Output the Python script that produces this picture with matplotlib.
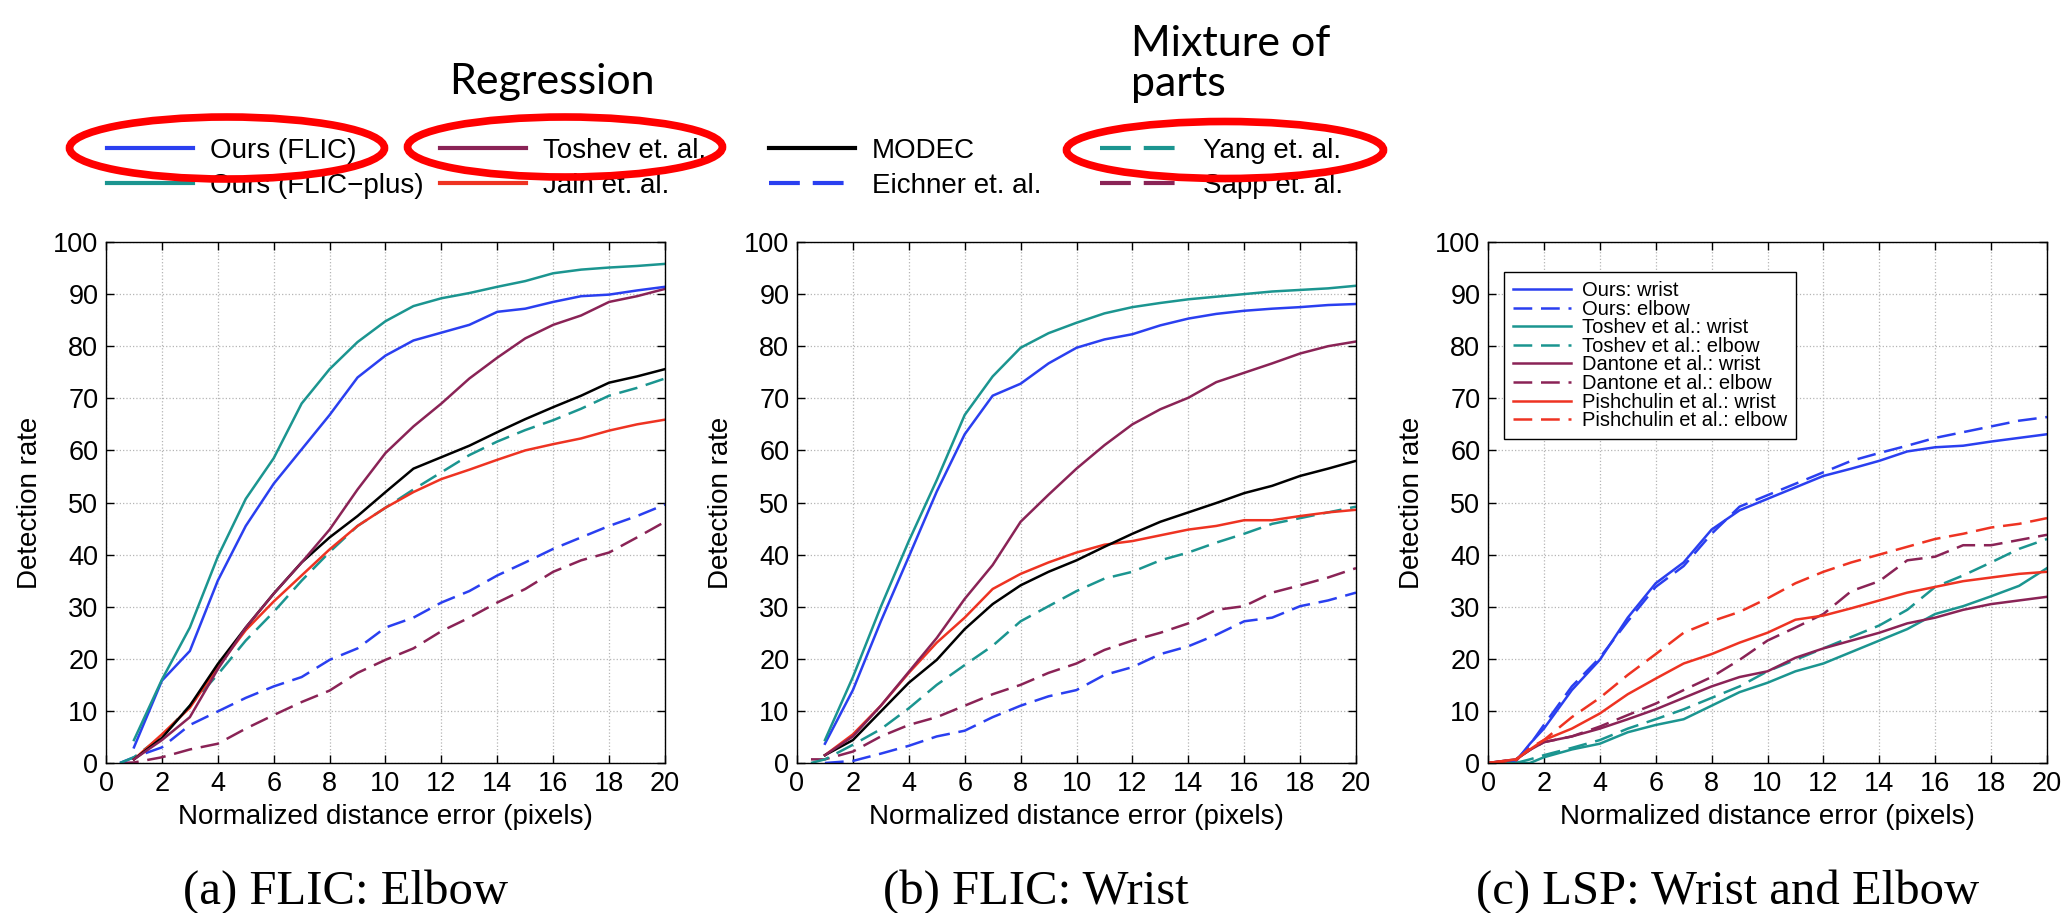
import numpy as np
import matplotlib
matplotlib.use("Agg")
import matplotlib.pyplot as plt
from matplotlib.lines import Line2D
from matplotlib.patches import Ellipse

plt.rcParams['font.family'] = ['Liberation Sans', 'DejaVu Sans']

nan = np.nan

# (a) FLIC: Elbow
x_a = [0.5, 1, 2, 3, 4, 5, 6, 7, 8, 9, 10, 11, 12, 13, 14, 15, 16, 17, 18, 19, 20]
ours_flic_a = [nan, 3.0, 15.8, 21.5, 35.0, 45.5, 53.6, 60.2, 66.8, 74.0, 78.2, 81.1, 82.6, 84.1, 86.6, 87.2, 88.5, 89.6, 89.9, 90.7, 91.4]
ours_plus_a = [nan, 4.4, 16.0, 26.0, 39.6, 50.7, 58.5, 69.0, 75.6, 80.8, 84.8, 87.7, 89.2, 90.2, 91.4, 92.5, 94.0, 94.7, 95.1, 95.4, 95.8]
toshev_a = [nan, 0.7, 4.4, 8.8, 18.0, 26.0, 32.5, 38.5, 44.8, 52.5, 59.5, 64.6, 69.0, 73.8, 77.8, 81.5, 84.1, 85.9, 88.5, 89.6, 91.0]
modec_a = [nan, 0.7, 4.8, 11.0, 19.0, 26.0, 32.5, 38.5, 43.3, 47.4, 52.0, 56.5, 58.7, 60.9, 63.5, 66.0, 68.3, 70.5, 73.0, 74.2, 75.6]
jain_a = [nan, 0.7, 5.5, 10.6, 18.4, 25.5, 31.0, 36.0, 41.0, 45.5, 49.0, 52.0, 54.5, 56.3, 58.2, 60.0, 61.2, 62.3, 63.8, 65.0, 65.9]
yang_a = [0.0, 1.1, 5.1, 11.0, 17.0, 23.5, 29.0, 35.0, 40.5, 45.5, 49.0, 52.5, 55.8, 59.1, 61.7, 63.9, 65.8, 68.0, 70.5, 72.0, 73.8]
eichner_a = [0.0, 1.1, 3.0, 7.3, 9.9, 12.5, 14.7, 16.5, 19.8, 22.0, 26.0, 27.9, 30.8, 33.0, 36.0, 38.5, 41.1, 43.3, 45.5, 47.4, 49.6]
sapp_a = [0.0, 0.1, 1.1, 2.6, 3.7, 6.6, 9.2, 11.7, 13.9, 17.3, 19.8, 22.0, 25.3, 27.9, 30.8, 33.4, 36.7, 38.9, 40.4, 43.3, 46.3]

# (b) FLIC: Wrist
x_b = [0.5, 1, 2, 3, 4, 5, 6, 7, 8, 9, 10, 11, 12, 13, 14, 15, 16, 17, 18, 19, 20]
ours_flic_b = [nan, 3.7, 14.0, 27.2, 39.6, 52.1, 63.1, 70.5, 72.8, 76.7, 79.7, 81.3, 82.3, 84.0, 85.3, 86.2, 86.8, 87.2, 87.5, 87.9, 88.1]
ours_plus_b = [nan, 4.4, 16.5, 30.0, 42.6, 54.3, 66.8, 74.2, 79.7, 82.5, 84.5, 86.3, 87.5, 88.3, 89.0, 89.5, 90.0, 90.5, 90.8, 91.1, 91.6]
toshev_b = [nan, 1.5, 5.1, 11.0, 17.5, 24.0, 31.5, 38.0, 46.3, 51.5, 56.5, 61.0, 65.0, 67.9, 70.1, 73.1, 74.9, 76.7, 78.6, 80.0, 80.9]
modec_b = [nan, 1.5, 4.4, 9.9, 15.4, 19.8, 25.7, 30.5, 34.1, 36.7, 38.9, 41.5, 44.0, 46.3, 48.1, 49.9, 51.8, 53.2, 55.1, 56.5, 58.0]
jain_b = [nan, 1.5, 5.5, 11.0, 17.3, 23.1, 27.9, 33.4, 36.3, 38.5, 40.4, 41.9, 42.6, 43.7, 44.8, 45.5, 46.6, 46.6, 47.4, 48.1, 48.6]
yang_b = [0.0, 0.7, 3.5, 6.5, 10.5, 15.0, 18.8, 22.5, 27.2, 30.1, 33.0, 35.4, 36.7, 38.9, 40.4, 42.3, 44.0, 45.9, 47.0, 48.1, 49.2]
eichner_b = [nan, 0.0, 0.4, 1.8, 3.3, 5.1, 6.2, 8.8, 11.0, 12.8, 14.0, 16.9, 18.4, 20.9, 22.4, 24.6, 27.2, 27.9, 30.1, 31.2, 32.7]
sapp_b = [0.7, 0.7, 2.2, 5.1, 7.3, 8.8, 11.0, 13.2, 15.0, 17.3, 19.1, 21.7, 23.5, 25.0, 26.8, 29.4, 30.1, 32.7, 34.1, 35.6, 37.4]

# (c) LSP: Wrist and Elbow
x_c = [0, 1, 1.5, 2, 3, 4, 5, 6, 7, 8, 9, 10, 11, 12, 13, 14, 15, 16, 17, 18, 19, 20]
ours_wr = [0, 0.3, 3.7, 6.6, 14.0, 19.8, 27.9, 34.5, 38.5, 44.8, 48.5, 50.7, 52.9, 55.1, 56.5, 58.0, 59.8, 60.6, 60.9, 61.7, 62.4, 63.1]
ours_el = [0, 0.5, 3.5, 7.3, 14.7, 20.2, 27.2, 33.8, 37.8, 44.0, 49.2, 51.4, 53.6, 55.8, 58.0, 59.5, 60.9, 62.4, 63.5, 64.6, 65.7, 66.4]
toshev_wr = [0, 0, 0, 1.1, 2.6, 3.7, 5.9, 7.3, 8.4, 11.0, 13.6, 15.4, 17.6, 19.1, 21.3, 23.5, 25.7, 28.6, 30.1, 32.0, 34.0, 37.4]
toshev_el = [0, 0, 0.7, 1.5, 2.9, 4.4, 6.6, 8.4, 10.3, 12.5, 14.7, 17.6, 19.8, 22.0, 24.2, 26.4, 29.4, 33.8, 36.0, 38.5, 41.1, 43.0]
dantone_wr = [0, 0.7, 2.5, 4.0, 5.1, 6.6, 8.4, 10.3, 12.5, 14.7, 16.5, 17.6, 20.2, 22.0, 23.5, 25.0, 26.8, 27.9, 29.4, 30.5, 31.2, 31.9]
dantone_el = [0, 0.7, 2.5, 4.0, 5.1, 7.0, 9.2, 11.4, 14.0, 16.5, 19.8, 23.5, 26.0, 28.6, 33.0, 34.9, 38.9, 39.6, 41.8, 41.8, 42.8, 43.8]
pish_wr = [0, 0.7, 2.6, 4.4, 6.6, 9.5, 13.2, 16.2, 19.1, 20.9, 23.1, 25.0, 27.5, 28.3, 29.7, 31.2, 32.7, 33.8, 34.9, 35.6, 36.3, 36.7]
pish_el = [0, 0.5, 2.9, 4.4, 8.8, 12.5, 16.9, 20.9, 25.0, 27.2, 29.0, 31.6, 34.5, 36.7, 38.5, 40.0, 41.5, 43.0, 44.0, 45.2, 45.9, 47.0]

top_labels = ["Ours (FLIC)", "Ours (FLIC\u2212plus)", "Toshev et. al.", "Jain et. al.",
              "MODEC", "Eichner et. al.", "Yang et. al.", "Sapp et. al."]
lsp_labels = ["Ours: wrist", "Ours: elbow", "Toshev et al.: wrist", "Toshev et al.: elbow",
              "Dantone et al.: wrist", "Dantone et al.: elbow",
              "Pishchulin et al.: wrist", "Pishchulin et al.: elbow"]
captions = ["(a) FLIC: Elbow", "(b) FLIC: Wrist", "(c) LSP: Wrist and Elbow"]

BLUE = '#2a3ff0'
TEAL = '#1b9590'
PURPLE = '#8a2356'
RED = '#ee3322'
BLACK = '#000000'

LW = 1.8
DASH = (7.5, 3.5)

fig = plt.figure(figsize=(20.64, 9.13), dpi=100)
W, H = 2064.0, 913.0

def make_ax(left_px):
    ax = fig.add_axes([left_px / W, 1 - 763 / H, 559 / W, 521 / H])
    ax.set_xlim(0, 20)
    ax.set_ylim(0, 100)
    ax.set_xticks(range(0, 21, 2))
    ax.set_yticks(range(0, 101, 10))
    ax.tick_params(direction='in', top=True, right=True, length=6, width=1,
                   labelsize=19.5, pad=5.5)
    ax.grid(True, linestyle=':', color='#b5b5b5', linewidth=0.9)
    for s in ax.spines.values():
        s.set_linewidth(1.0)
    ax.set_xlabel("Normalized distance error (pixels)", fontsize=20, labelpad=5)
    ax.set_ylabel("Detection rate", fontsize=20, labelpad=7)
    return ax

def line(ax, x, y, color, dashed=False):
    if dashed:
        ax.plot(x, y, color=color, lw=LW, dashes=DASH)
    else:
        ax.plot(x, y, color=color, lw=LW)

ax1 = make_ax(106)
line(ax1, x_a, sapp_a, PURPLE, True)
line(ax1, x_a, eichner_a, BLUE, True)
line(ax1, x_a, yang_a, TEAL, True)
line(ax1, x_a, jain_a, RED)
line(ax1, x_a, modec_a, BLACK)
line(ax1, x_a, toshev_a, PURPLE)
line(ax1, x_a, ours_flic_a, BLUE)
line(ax1, x_a, ours_plus_a, TEAL)

ax2 = make_ax(797)
line(ax2, x_b, sapp_b, PURPLE, True)
line(ax2, x_b, eichner_b, BLUE, True)
line(ax2, x_b, yang_b, TEAL, True)
line(ax2, x_b, jain_b, RED)
line(ax2, x_b, modec_b, BLACK)
line(ax2, x_b, toshev_b, PURPLE)
line(ax2, x_b, ours_flic_b, BLUE)
line(ax2, x_b, ours_plus_b, TEAL)

ax3 = make_ax(1488)
series_c = [(ours_wr, BLUE, False), (ours_el, BLUE, True),
            (toshev_wr, TEAL, False), (toshev_el, TEAL, True),
            (dantone_wr, PURPLE, False), (dantone_el, PURPLE, True),
            (pish_wr, RED, False), (pish_el, RED, True)]
for y, c, d in series_c:
    line(ax3, x_c, y, c, d)
leg3 = ax3.legend(ax3.get_lines(), lsp_labels, loc='upper left',
                  bbox_to_anchor=(16 / 559, 1 - 30 / 521), borderaxespad=0,
                  fontsize=14.5, handlelength=2.9, handletextpad=0.5,
                  labelspacing=-0.02, borderpad=0.45, fancybox=False,
                  edgecolor='black', framealpha=1)
leg3.get_frame().set_linewidth(1.0)

# top legend, four columns placed at fixed spacing
top_colors = [BLUE, TEAL, PURPLE, RED, BLACK, BLUE, TEAL, PURPLE]
top_dashed = [False, False, False, False, False, True, True, True]
proxies = []
for c, d in zip(top_colors, top_dashed):
    if d:
        proxies.append(Line2D([], [], color=c, lw=3, dashes=(7.4, 3.1)))
    else:
        proxies.append(Line2D([], [], color=c, lw=3))
col_x = [107, 440, 769, 1100]
for i, cx in enumerate(col_x):
    fig.legend(proxies[2 * i:2 * i + 2], top_labels[2 * i:2 * i + 2],
               loc='upper left', bbox_to_anchor=(cx / W, 1 - 138 / H),
               frameon=False, borderpad=0, borderaxespad=0, fontsize=20,
               handlelength=3.1, handletextpad=0.6, labelspacing=0.33)

# red ellipses
for cx, cy, ew, eh in [(227, 148, 315, 62), (565, 147, 315, 60), (1225, 150, 317, 57)]:
    fig.add_artist(Ellipse((cx / W, 1 - cy / H), ew / W, eh / H,
                           transform=fig.transFigure, fill=False,
                           edgecolor='#ff0000', lw=5.5, zorder=10))

fig.text(552 / W, 1 - 82 / H, "Regression", family=['Lato', 'DejaVu Sans'],
         fontsize=31, ha='center', va='center')
fig.text(1131 / W, 1 - 64 / H, "Mixture of\nparts", family=['Lato', 'DejaVu Sans'],
         fontsize=31, ha='left', va='center', linespacing=1.05)

for cx, txt in zip([346, 1036, 1728], captions):
    fig.text(cx / W, 1 - 892 / H, txt, family=['Liberation Serif', 'DejaVu Serif'],
             fontsize=35, ha='center', va='center')

fig.savefig("out.png", dpi=100)
